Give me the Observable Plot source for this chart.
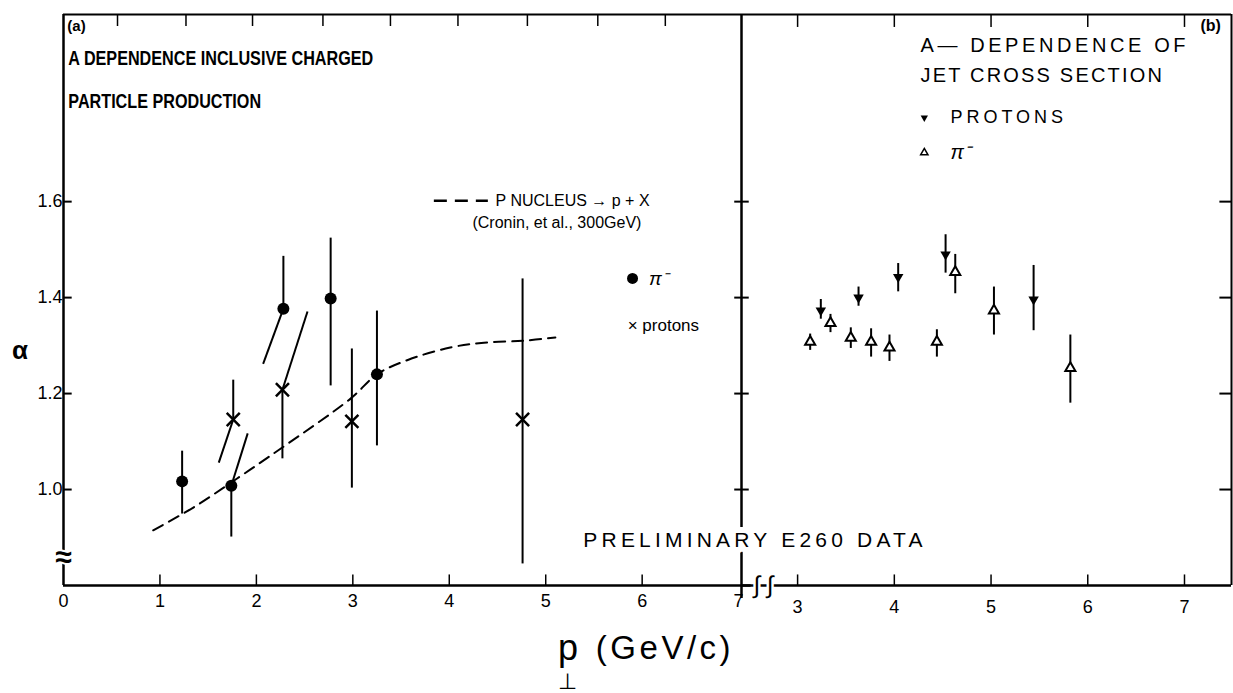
<!DOCTYPE html>
<html><head><meta charset="utf-8">
<script src="https://cdn.jsdelivr.net/npm/d3@7"></script>
<script src="https://cdn.jsdelivr.net/npm/@observablehq/plot@0.6"></script>
<style>
body{margin:0;background:#fff;}
#wrap{position:relative;width:1233px;height:693px;overflow:hidden;background:#fff}
#left,#right{position:absolute;top:0}
#left{left:0}
#right{left:700px}
</style></head><body><div id="wrap"><div id="right"></div><div id="left"></div></div>
<script>
// ---------- panel (a): inclusive charged particle production ----------
const piX  = [1.23, 1.74, 2.28, 2.77, 3.25];
const piY  = [1.017, 1.008, 1.377, 1.398, 1.24];
const piLo = [0.95, 0.902, 1.262, 1.217, 1.092];
const piHi = [1.081, 1.117, 1.487, 1.525, 1.373];
const piLoX = [1.23, 1.74, 2.07, 2.77, 3.25];   // end x of (slanted) lower bar
const piHiX = [1.23, 1.91, 2.28, 2.77, 3.25];   // end x of (slanted) upper bar
const prX  = [1.76, 2.27, 2.99, 4.76];
const prY  = [1.146, 1.208, 1.142, 1.146];
const prLo = [1.056, 1.065, 1.004, 0.846];
const prHi = [1.229, 1.371, 1.294, 1.44];
const prLoX = [1.61, 2.27, 2.99, 4.76];
const prHiX = [1.76, 2.53, 2.99, 4.76];
const croninX = [0.93, 1.35, 1.80, 2.25, 2.98, 3.25, 3.57, 4.01, 4.36, 4.76, 5.10];
const croninY = [0.915, 0.963, 1.023, 1.085, 1.19, 1.24, 1.27, 1.296, 1.306, 1.31, 1.317];
// ---------- panel (b): jet cross section ----------
const jetPrX  = [3.24, 3.63, 4.04, 4.53, 5.44];
const jetPrY  = [1.373, 1.40, 1.443, 1.49, 1.396];
const jetPrLo = [1.355, 1.382, 1.412, 1.451, 1.331];
const jetPrHi = [1.396, 1.422, 1.471, 1.531, 1.467];
const jetPiX  = [3.13, 3.34, 3.55, 3.76, 3.95, 4.44, 4.63, 5.03, 5.82];
const jetPiY  = [1.308, 1.347, 1.316, 1.308, 1.296, 1.308, 1.453, 1.373, 1.253];
const jetPiLo = [1.29, 1.327, 1.294, 1.276, 1.267, 1.276, 1.408, 1.322, 1.18];
const jetPiHi = [1.324, 1.365, 1.337, 1.335, 1.322, 1.333, 1.49, 1.422, 1.322];
// ---------- ticks ----------
const yTicks = [1.0, 1.2, 1.4, 1.6];
const xTicksLeft = [0, 1, 2, 3, 4, 5, 6, 7];
const xTicksRight = [3, 4, 5, 6, 7];
const topTicksLeft = [0.56, 1.27, 1.96, 2.69, 3.39, 4.09, 4.81, 5.54, 6.24];

const pi = piX.map((x, i) => ({x, y: piY[i], lo: piLo[i], hi: piHi[i], loX: piLoX[i], hiX: piHiX[i]}));
const pr = prX.map((x, i) => ({x, y: prY[i], lo: prLo[i], hi: prHi[i], loX: prLoX[i], hiX: prHiX[i]}));
const cronin = croninX.map((x, i) => ({x, y: croninY[i]}));
const jetPr = jetPrX.map((x, i) => ({x, y: jetPrY[i], lo: jetPrLo[i], hi: jetPrHi[i]}));
const jetPi = jetPiX.map((x, i) => ({x, y: jetPiY[i], lo: jetPiLo[i], hi: jetPiHi[i]}));

const font = "Liberation Sans, Arial, sans-serif";
const yDom = [0.8, 1.99];
const xDomL = [0, 7.03];
const xDomR = [2.42, 7.486];
const st = {background: "transparent", overflow: "visible", fontFamily: font, color: "black"};
const intFmt = d3.format("d");

const L = Plot.plot({
  width: 745, height: 693, marginLeft: 63, marginRight: 4, marginTop: 14, marginBottom: 108,
  style: st,
  x: {domain: xDomL}, y: {domain: yDom},
  marks: [
    Plot.ruleX([xDomL[0]], {y1: yDom[0], y2: yDom[1], strokeWidth: 2.5}),
    Plot.ruleY([yDom[0]], {x1: xDomL[0], x2: xDomL[1] + 0.1, strokeWidth: 2.5}),
    Plot.ruleY([yDom[1]], {x1: xDomL[0], x2: xDomL[1], strokeWidth: 2}),
    Plot.ruleX([xDomL[1]], {y1: yDom[1], y2: yDom[0] - 0.027, strokeWidth: 2.5}),
    Plot.ruleX(xTicksLeft.filter(d => d > 0 && d < 7), {y1: yDom[0], y2: yDom[0] + 0.022, strokeWidth: 1.5}),
    Plot.ruleY(yTicks, {x1: 0, x2: 0.09, strokeWidth: 2}),
    Plot.ruleX(topTicksLeft, {y1: yDom[1], y2: yDom[1] - 0.025, strokeWidth: 1.5}),
    Plot.axisX({ticks: xTicksLeft, tickSize: 0, tickPadding: 9, fontSize: 18, label: null, tickFormat: intFmt}),
    Plot.axisY({ticks: yTicks, tickSize: 0, tickPadding: 1, fontSize: 18, label: null, tickFormat: d3.format(".1f")}),
    Plot.text(["≈"], {x: 0, y: 0.858, fontSize: 30, fontWeight: "bold", stroke: "white", strokeWidth: 4, fill: "black"}),
    Plot.text(["α"], {x: -0.45, y: 1.29, fontSize: 26, fontWeight: "bold"}),
    // Cronin curve
    Plot.line(cronin, {x: "x", y: "y", strokeWidth: 2, strokeDasharray: "11,7", curve: "catmull-rom"}),
    // error bars
    Plot.link(pi, {x1: "x", y1: "y", x2: "hiX", y2: "hi", strokeWidth: 2}),
    Plot.link(pi, {x1: "x", y1: "y", x2: "loX", y2: "lo", strokeWidth: 2}),
    Plot.link(pr, {x1: "x", y1: "y", x2: "hiX", y2: "hi", strokeWidth: 2}),
    Plot.link(pr, {x1: "x", y1: "y", x2: "loX", y2: "lo", strokeWidth: 2}),
    Plot.dot(pi, {x: "x", y: "y", r: 6, fill: "black"}),
    Plot.dot(pr, {x: "x", y: "y", r: 6, symbol: "times", stroke: "black", strokeWidth: 2.5}),
    // titles
    Plot.text(["(a)"], {x: 0.04, y: 1.965, textAnchor: "start", fontSize: 15, fontWeight: "bold"}),
    Plot.text(["A DEPENDENCE INCLUSIVE CHARGED"], {x: 0.05, y: 1.898, textAnchor: "start", fontSize: 21, fontWeight: "bold"}),
    Plot.text(["PARTICLE PRODUCTION"], {x: 0.05, y: 1.81, textAnchor: "start", fontSize: 21, fontWeight: "bold"}),
    // legend
    Plot.link([0], {x1: 3.84, x2: 4.40, y1: 1.602, y2: 1.602, strokeWidth: 2.5, strokeDasharray: "13,8"}),
    Plot.text(["P NUCLEUS → p + X"], {x: 4.48, y: 1.602, textAnchor: "start", fontSize: 16}),
    Plot.text(["(Cronin, et al., 300GeV)"], {x: 4.24, y: 1.556, textAnchor: "start", fontSize: 16}),
    Plot.dot([0], {x: 5.90, y: 1.44, r: 5.5, fill: "black"}),
    Plot.text(["π⁻"], {x: 6.07, y: 1.44, textAnchor: "start", fontSize: 19, fontStyle: "italic"}),
    Plot.text(["× protons"], {x: 5.85, y: 1.342, textAnchor: "start", fontSize: 17}),
    Plot.text(["PRELIMINARY E260 DATA"], {x: 5.39, y: 0.894, textAnchor: "start", fontSize: 21, stroke: "white", strokeWidth: 12, fill: "black"}),
    // axis title
    Plot.text(["p"], {x: 5.23, y: 0.669, fontSize: 36}),
    Plot.text(["⊥"], {x: 5.23, y: 0.60, fontSize: 22}),
    Plot.text(["(GeV/c)"], {x: 5.52, y: 0.669, textAnchor: "start", fontSize: 33})
  ]
});

const R = Plot.plot({
  width: 533, height: 693, marginLeft: 41, marginRight: 2, marginTop: 14, marginBottom: 108,
  style: st,
  x: {domain: xDomR}, y: {domain: yDom, axis: null},
  marks: [
    Plot.ruleY([yDom[0]], {x1: xDomR[0], x2: xDomR[1], strokeWidth: 2.5}),
    Plot.ruleY([yDom[1]], {x1: xDomR[0], x2: xDomR[1], strokeWidth: 2}),
    Plot.ruleX([xDomR[1]], {y1: yDom[0], y2: yDom[1], strokeWidth: 2}),
    Plot.ruleX(xTicksRight, {y1: yDom[0], y2: yDom[0] + 0.022, strokeWidth: 1.5}),
    Plot.ruleX(xTicksRight, {y1: yDom[1], y2: yDom[1] - 0.027, strokeWidth: 1.5}),
    Plot.ruleY(yTicks, {x1: xDomR[0] - 0.07, x2: xDomR[0] + 0.08, strokeWidth: 2}),
    Plot.ruleY(yTicks, {x1: xDomR[1] - 0.12, x2: xDomR[1], strokeWidth: 2}),
    Plot.axisX({ticks: xTicksRight, tickSize: 0, tickPadding: 15, fontSize: 18, label: null, tickFormat: intFmt}),
    Plot.text(["∫ ∫"], {x: 2.65, y: yDom[0], fontSize: 24, fontStyle: "italic", stroke: "white", strokeWidth: 5, fill: "black"}),
    Plot.ruleX(jetPr, {x: "x", y1: "lo", y2: "hi", strokeWidth: 2}),
    Plot.ruleX(jetPi, {x: "x", y1: "lo", y2: "hi", strokeWidth: 2}),
    Plot.dot(jetPr, {x: "x", y: "y", symbol: "triangle2", rotate: 180, r: 5, fill: "black"}),
    Plot.dot(jetPi, {x: "x", y: "y", symbol: "triangle2", r: 4.8, fill: "white", stroke: "black", strokeWidth: 2}),
    Plot.text(["(b)"], {x: 7.165, y: 1.967, textAnchor: "start", fontSize: 16, fontWeight: "bold"}),
    Plot.text(["A— DEPENDENCE OF"], {x: 4.27, y: 1.925, textAnchor: "start", fontSize: 20}),
    Plot.text(["JET CROSS SECTION"], {x: 4.27, y: 1.8625, textAnchor: "start", fontSize: 20}),
    Plot.dot([0], {x: 4.31, y: 1.775, symbol: "triangle2", rotate: 180, r: 3.5, fill: "black"}),
    Plot.text(["PROTONS"], {x: 4.58, y: 1.775, textAnchor: "start", fontSize: 18}),
    Plot.dot([0], {x: 4.31, y: 1.702, symbol: "triangle2", r: 3.5, fill: "white", stroke: "black", strokeWidth: 1.5}),
    Plot.text(["π⁻"], {x: 4.58, y: 1.702, textAnchor: "start", fontSize: 20, fontStyle: "italic"})
  ]
});

document.getElementById("right").appendChild(R);
document.getElementById("left").appendChild(L);

// letter spacing of the hand lettering
const spacing = {"PRELIMINARY E260 DATA": 4.2, "(GeV/c)": 3.5,
  "A— DEPENDENCE OF": 3.6, "JET CROSS SECTION": 2.2, "PROTONS": 4};
// condensed panel (a) title
const cond = ["A DEPENDENCE INCLUSIVE CHARGED", "PARTICLE PRODUCTION"];
[L, R].forEach(svg => svg.querySelectorAll("text").forEach(t => {
  const s = t.textContent;
  if (spacing[s] != null) t.style.letterSpacing = spacing[s] + "px";
  if (cond.includes(s)) {
    const w = t.getComputedTextLength();
    t.setAttribute("textLength", (w * 0.77).toFixed(1));
    t.setAttribute("lengthAdjust", "spacingAndGlyphs");
  }
}));
</script>
</body></html>
